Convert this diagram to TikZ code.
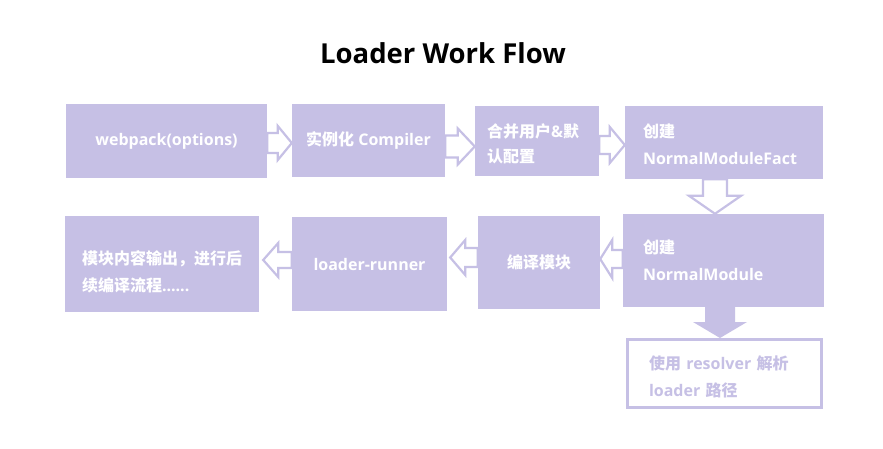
\documentclass[tikz,border=0pt]{standalone}
\usepackage{fontspec}
\setmainfont{Open Sans}
\newfontfamily\cjk{Noto Sans CJK SC}
\usetikzlibrary{calc}
\definecolor{lav}{RGB}{198,192,229}
\newcommand\zh[1]{{\cjk\bfseries #1}}
\newcommand\blockarr[6]{%
  \coordinate (hb) at ($(#3)!#6!(#2)$);
  \draw[#1] ($(#2)!#4!90:(#3)$) -- ($(hb)!#4!90:(#3)$) -- ($(hb)!#5!90:(#3)$)
    -- (#3) -- ($(hb)!#5!-90:(#3)$) -- ($(hb)!#4!-90:(#3)$) -- ($(#2)!#4!-90:(#3)$) -- cycle;}
\begin{document}
\begin{tikzpicture}[x=1pt,y=-1pt,
  box/.style={fill=lav,inner sep=0pt,text=white,font=\bfseries\fontsize{16}{27}\selectfont},
  hollow/.style={draw=lav,fill=white,line width=2.2pt,line join=miter},
  solid/.style={fill=lav,draw=none}]
\useasboundingbox (0,0) rectangle (883,449);
\fill[white] (0,0) rectangle (883,449);
\node[font=\bfseries\fontsize{27.5}{30}\selectfont] (title) at (443,53) {Loader Work Flow};
% boxes
\node[box,minimum width=201pt,minimum height=74pt,align=center] (b1) at (166.5,141) {webpack(options)};
\node[box,minimum width=153pt,minimum height=73pt,align=center] (b2) at (368.5,140.5) {\zh{实例化} Compiler};
\node[box,minimum width=124pt,minimum height=70pt,text width=100pt,align=left,font=\bfseries\fontsize{16}{25}\selectfont] (b3) at (537,141) {\rule{0pt}{20pt}\zh{合并用户}\&\zh{默}\\\zh{认配置}};
\node[box,minimum width=198pt,minimum height=73pt,text width=162pt,align=left] (b4) at (724,142.5) {\rule{0pt}{17pt}\zh{创建}\\NormalModuleFact};
\node[box,minimum width=201pt,minimum height=93pt,text width=161pt,align=left] (b5) at (723.5,260.5) {\zh{创建}\\NormalModule};
\node[box,minimum width=122pt,minimum height=93pt,align=center] (b6) at (539,262.5) {\zh{编译模块}};
\node[box,minimum width=155pt,minimum height=94pt,align=center] (b7) at (369.5,264) {loader-runner};
\node[box,minimum width=194pt,minimum height=96pt,text width=160pt,align=left] (b8) at (162,264) {\rule{0pt}{29pt}\zh{模块内容输出，进行后}\\\zh{续编译流程}......};
\node[box,fill=white,draw=lav,line width=2.6pt,text=lav,minimum width=194.4pt,minimum height=68.4pt,text width=151pt,align=left] (b9) at (724.5,373.5) {\rule{0pt}{20pt}\zh{使用} resolver \zh{解析}\\loader \zh{路径}};
% arrows
\coordinate (s12) at ($(b1.east)+(0,2)$);   \coordinate (t12) at ($(b2.west)+(0,2.5)$);
\coordinate (s23) at ($(b2.east)+(0,6)$);   \coordinate (t23) at ($(b3.west)+(0,5.5)$);
\coordinate (s34) at ($(b3.east)+(0,4)$);   \coordinate (t34) at ($(b4.west)+(0,2.5)$);
\coordinate (s45) at ($(b4.south)+(-9,0)$); \coordinate (t45) at ($(b5.north)+(-8.5,0)$);
\coordinate (s56) at ($(b5.west)+(0,-1.5)$); \coordinate (t56) at ($(b6.east)+(0,-3.5)$);
\coordinate (s67) at ($(b6.west)+(0,-5)$);  \coordinate (t67) at ($(b7.east)+(3,-6.5)$);
\coordinate (s78) at ($(b7.west)+(0,-4)$);  \coordinate (t78) at ($(b8.east)+(4,-4)$);
\coordinate (s59) at ($(b5.south)+(-3.5,0)$); \coordinate (t59) at ($(b9.north)+(-4.5,0)$);
\blockarr{hollow}{s12}{t12}{10pt}{17pt}{14pt}
\blockarr{hollow}{s23}{t23}{11pt}{18pt}{17pt}
\blockarr{hollow}{s34}{t34}{9pt}{18pt}{15pt}
\blockarr{hollow}{s45}{t45}{12pt}{26pt}{18pt}
\blockarr{hollow}{s56}{t56}{9pt}{19pt}{12pt}
\blockarr{hollow}{s67}{t67}{9.5pt}{17.5pt}{15pt}
\blockarr{hollow}{s78}{t78}{8pt}{17pt}{15pt}
\blockarr{solid}{s59}{t59}{15pt}{27pt}{16pt}
\end{tikzpicture}
\end{document}
